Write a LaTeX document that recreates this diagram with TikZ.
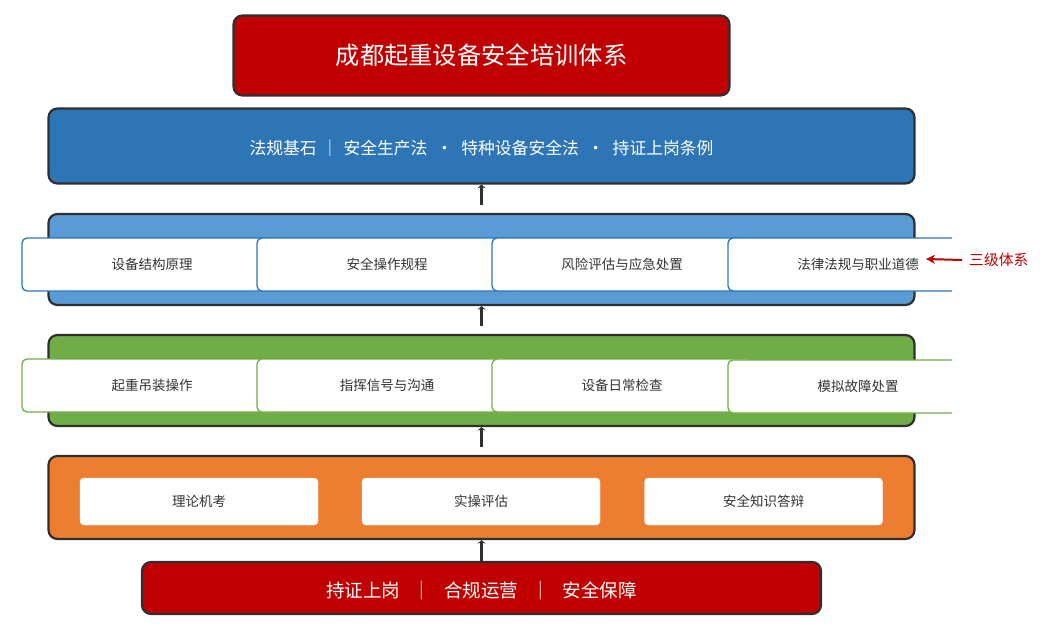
\documentclass[tikz,border=0pt]{standalone}
\usepackage{fontspec}
\setmainfont{Noto Sans CJK SC}
\usetikzlibrary{arrows.meta}
\definecolor{cred}{HTML}{C00000}
\definecolor{cblue}{HTML}{2E75B6}
\definecolor{clblue}{HTML}{5B9BD5}
\definecolor{cgreen}{HTML}{70AD47}
\definecolor{corange}{HTML}{ED7D31}
\definecolor{cborder}{HTML}{2F2F2F}
\definecolor{ctext}{HTML}{333333}
\tikzset{
  layer/.style={draw=cborder, line width=2.2pt, rounded corners=9pt, inner sep=0pt, minimum width=866pt},
  item/.style={rounded corners=5pt, fill=white, line width=1.3pt, inner sep=0pt, minimum width=260pt, minimum height=53pt, text=ctext, font=\fontsize{13.5}{16}\selectfont},
  oitem/.style={rounded corners=4pt, fill=white, draw=white, inner sep=0pt, minimum width=238pt, minimum height=47pt, text=ctext, font=\fontsize{13.5}{16}\selectfont},
  uparr/.style={draw=cborder, line width=2.6pt, -{Stealth[length=3.5pt,width=8pt]}},
}
\begin{document}
\begin{tikzpicture}[x=1pt,y=-1pt]
\useasboundingbox (0,0) rectangle (1040,626);
% title
\node[layer, fill=cred, minimum width=496pt, minimum height=80pt, text=white, font=\fontsize{24.3}{28}\selectfont] (title) at (481.5,55.5) {成都起重设备安全培训体系};
% blue layer
\node[layer, fill=cblue, minimum height=75pt, label={[text=white, font=\fontsize{16.8}{20}\selectfont, yshift=-2pt]center:法规基石\hspace{5pt}｜\hspace{5pt}安全生产法\hspace{8.5pt}・\hspace{8.5pt}特种设备安全法\hspace{8.5pt}・\hspace{8.5pt}持证上岗条例}] (l1) at (481.5,146) {};
% light blue layer
\node[layer, fill=clblue, minimum height=91pt] (l2) at (481.5,259.5) {};
\begin{scope}
\clip (0,0) rectangle (952,626);
\node[item, draw=cblue] (a1) at (152,264.5) {设备结构原理};
\node[item, draw=cblue] (a2) at (387,264.5) {安全操作规程};
\node[item, draw=cblue] (a3) at (622,264.5) {风险评估与应急处置};
\node[item, draw=cblue] (a4) at (858,264.5) {法律法规与职业道德};
\end{scope}
% green layer
\node[layer, fill=cgreen, minimum height=91pt] (l3) at (481.5,380.5) {};
\begin{scope}
\clip (0,0) rectangle (952,626);
\node[item, draw=cgreen] (b1) at (152,385.5) {起重吊装操作};
\node[item, draw=cgreen] (b2) at (387,385.5) {指挥信号与沟通};
\node[item, draw=cgreen] (b3) at (622,385.5) {设备日常检查};
\node[item, draw=cgreen] (b4) at (858,386.5) {模拟故障处置};
\end{scope}
% orange layer
\node[layer, fill=corange, minimum height=83pt] (l4) at (481.5,497.5) {};
\node[oitem] (c1) at (199,501.5) {理论机考};
\node[oitem] (c2) at (481,501.5) {实操评估};
\node[oitem] (c3) at (763.5,501.5) {安全知识答辩};
% bottom
\node[layer, fill=cred, minimum width=679pt, minimum height=52pt, label={[text=white, font=\fontsize{18.5}{22}\selectfont, yshift=-2.5pt]center:持证上岗\hspace{13pt}｜\hspace{13pt}合规运营\hspace{13pt}｜\hspace{13pt}安全保障}] (bot) at (481.5,588) {};
% arrows
\draw[uparr] ([yshift=8pt]l2.north) -- (l1.south);
\draw[uparr] ([yshift=8pt]l3.north) -- (l2.south);
\draw[uparr] ([yshift=8pt]l4.north) -- (l3.south);
\draw[uparr] (bot.north) -- (l4.south);
% annotation
\node[anchor=west, text=cred, inner sep=0pt, font=\fontsize{14.8}{17}\selectfont] (note) at (969,260) {三级体系};
\coordinate (notetip) at (926,259);
\draw[cred, line width=2pt, -{Stealth[length=9pt,width=9pt]}] ([xshift=-7pt]note.west) -- (notetip);
\end{tikzpicture}
\end{document}
